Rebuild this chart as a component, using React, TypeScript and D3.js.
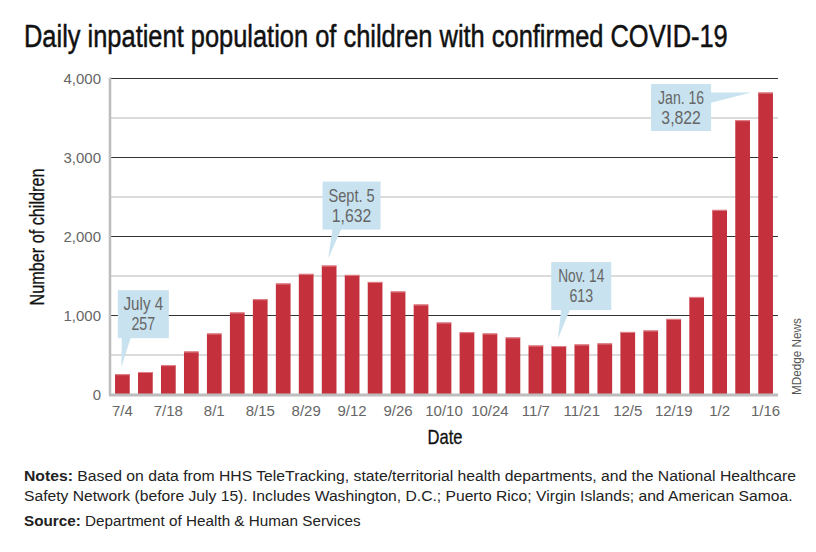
import React, { useLayoutEffect, useRef, useState } from "react";
import * as d3 from "d3";

const weeks = ["7/4","7/11","7/18","7/25","8/1","8/8","8/15","8/22","8/29","9/5","9/12","9/19","9/26","10/3","10/10","10/17","10/24","10/31","11/7","11/14","11/21","11/28","12/5","12/12","12/19","12/26","1/2","1/9","1/16"];
const patients = [257,285,371,544,772,1038,1206,1405,1527,1632,1514,1425,1304,1139,911,789,772,722,620,613,633,646,792,810,957,1235,2337,3472,3822];
const yTicks = [0, 1000, 2000, 3000, 4000];
const yMinor = [500, 1500, 2500, 3500];

const callouts = [
  { week: "7/4", label: "July 4", value: "257", kind: "up" },
  { week: "9/5", label: "Sept. 5", value: "1,632", kind: "up" },
  { week: "11/14", label: "Nov. 14", value: "613", kind: "up" },
  { week: "1/16", label: "Jan. 16", value: "3,822", kind: "left" },
];

const FONT = "'Liberation Sans', Arial, sans-serif";

type FitProps = {
  x: number; y: number; width: number; rotate?: number; anchor?: "start" | "middle" | "end";
  children: React.ReactNode; [k: string]: any;
};

function FitText({ x, y, width, rotate = 0, anchor = "start", children, ...rest }: FitProps) {
  const ref = useRef<SVGTextElement>(null);
  const [s, setS] = useState(1);
  useLayoutEffect(() => {
    if (ref.current) {
      const w = ref.current.getComputedTextLength();
      if (w > 0) setS(width / w);
    }
  }, [width]);
  return (
    <g transform={`translate(${x},${y}) rotate(${rotate}) scale(${s},1)`}>
      <text ref={ref} x={0} y={0} textAnchor={anchor} fontFamily={FONT} {...rest}>{children}</text>
    </g>
  );
}

export default function App() {
  const W = 816, H = 552;
  const left = 110, right = 778, top = 78.5, bottom = 394.5;
  const x = d3.scaleBand<string>().domain(weeks).range([left, right]).paddingInner(0.36).paddingOuter(0.22);
  const y = d3.scaleLinear().domain([0, 4000]).range([bottom, top]);
  const bw = x.bandwidth();

  const renderCallout = (c: typeof callouts[number], i: number) => {
    const idx = weeks.indexOf(c.week);
    const cx = (x(c.week) as number) + bw / 2;
    const vy = y(patients[idx]);
    let bx: number, by: number, bwid: number, bh: number, path: string;
    if (c.kind === "up") {
      const tipX = cx - 1, tipY = vy - 7;
      bwid = c.label.length > 6 ? 60 : 51;
      if (c.week === "9/5") bwid = 58;
      bh = 48;
      bx = cx - (c.week === "7/4" ? 4.6 : c.week === "9/5" ? 6.6 : 7.6);
      by = tipY - 29 - bh;
      const baseY = by + bh;
      const b1 = c.week === "7/4" ? bx + 4 : bx + 10;
      path = `M${b1},${baseY - 1} L${b1 + 9},${baseY - 1} L${tipX},${tipY} Z`;
    } else {
      const tipX = cx - 14.5, tipY = vy;
      bwid = 60; bh = 47;
      bx = tipX - 40 - bwid; by = tipY - 8.5;
      const rx = bx + bwid;
      path = `M${rx - 1},${by + 8.5} L${rx - 1},${by + 19} L${tipX},${tipY} Z`;
    }
    const mx = bx + bwid / 2;
    return (
      <g key={i}>
        <path d={path} fill="#c8e2ef" />
        <rect x={bx} y={by} width={bwid} height={bh} fill="#c8e2ef" />
        <FitText x={mx} y={by + 20} anchor="middle" width={c.label.length * 6.6} fontSize={17.5} fill="#666">{c.label}</FitText>
        <FitText x={mx} y={by + 40} anchor="middle" width={c.value.length * 7.9} fontSize={17.5} fill="#666">{c.value}</FitText>
      </g>
    );
  };

  return (
    <svg width={W} height={H} style={{ position: "absolute", left: 0, top: 0, background: "#fff" }}>
      <rect width={W} height={H} fill="#fff" />
      <FitText x={24} y={47} width={704} fontSize={31} fill="#111" stroke="#111" strokeWidth={0.5}>
        Daily inpatient population of children with confirmed COVID-19
      </FitText>

      {yMinor.map((v) => (
        <line key={"m" + v} x1={left} x2={right} y1={y(v)} y2={y(v)} stroke="#cfcfcf" strokeWidth={1.5} />
      ))}
      {yTicks.filter((v) => v > 0).map((v) => (
        <line key={"g" + v} x1={left} x2={right} y1={y(v)} y2={y(v)} stroke="#333" strokeWidth={1.2} />
      ))}

      {weeks.map((w, i) => (
        <g key={w}>
          <rect x={x(w)} y={y(patients[i])} width={bw} height={bottom - y(patients[i])} fill="#c4313d" />
          <rect x={x(w)} y={y(patients[i])} width={bw} height={1} fill="#e0858b" />
        </g>
      ))}

      <line x1={left} x2={left} y1={top - 1} y2={bottom + 1} stroke="#bdbdbd" strokeWidth={2.5} />
      <line x1={left - 1} x2={right} y1={bottom + 0.5} y2={bottom + 0.5} stroke="#bdbdbd" strokeWidth={3} />

      {yTicks.map((v) => (
        <text key={"t" + v} x={101} y={y(v) + 5.5} textAnchor="end" fontSize={15} fill="#666" fontFamily={FONT}>
          {d3.format(",")(v)}
        </text>
      ))}
      {weeks.map((w, i) => i % 2 === 0 ? (
        <text key={"x" + w} x={(x(w) as number) + bw / 2} y={416} textAnchor="middle" fontSize={15} fill="#666" fontFamily={FONT}>
          {w}
        </text>
      ) : null)}

      {callouts.map(renderCallout)}

      <FitText x={44} y={237} rotate={-90} anchor="middle" width={137} fontSize={20} fill="#111" stroke="#111" strokeWidth={0.3}>
        Number of children
      </FitText>
      <FitText x={445} y={444} anchor="middle" width={35} fontSize={20} fill="#111" stroke="#111" strokeWidth={0.3}>
        Date
      </FitText>
      <FitText x={801} y={395} rotate={-90} width={77} fontSize={13} fill="#555">MDedge News</FitText>

      <FitText x={24} y={481} width={773} fontSize={15} fill="#222">
        <tspan fontWeight="bold">Notes:</tspan> Based on data from HHS TeleTracking, state/territorial health departments, and the National Healthcare
      </FitText>
      <FitText x={24} y={501} width={769} fontSize={15} fill="#222">
        Safety Network (before July 15). Includes Washington, D.C.; Puerto Rico; Virgin Islands; and American Samoa.
      </FitText>
      <FitText x={24} y={526} width={337} fontSize={15} fill="#222">
        <tspan fontWeight="bold">Source:</tspan> Department of Health &amp; Human Services
      </FitText>
    </svg>
  );
}
